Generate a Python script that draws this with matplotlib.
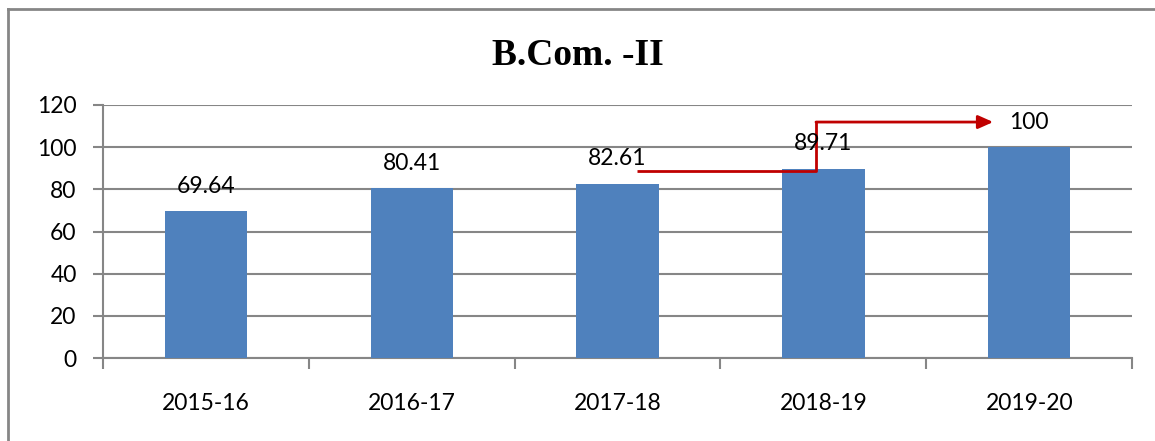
import numpy as np
import matplotlib.pyplot as plt
from matplotlib.lines import Line2D

years = ['2015-16', '2016-17', '2017-18', '2018-19', '2019-20']
results = [69.64, 80.41, 82.61, 89.71, 100]
labels = ['69.64', '80.41', '82.61', '89.71', '100']

# elbow arrow (data coords: category index, value)
arrow_x = [2.095, 2.964, 2.964, 3.825]
arrow_y = [88.7, 88.7, 111.9, 111.9]

grey = '#868686'
plt.rcParams['font.family'] = ['Lato', 'DejaVu Sans']

fig = plt.figure(figsize=(11.55, 4.41), dpi=100)
ax = fig.add_axes([0.0892, 0.188, 0.891, 0.574])

x = np.arange(len(years))
ax.bar(x, results, width=0.4, color='#4F81BD', zorder=3)

for xi, v, lab in zip(x, results, labels):
    ax.annotate(lab, (xi, v), xytext=(0, 18), textcoords='offset points',
                ha='center', va='center', fontsize=16.5, color='black', zorder=5)

ax.plot(arrow_x[:-1], arrow_y[:-1], color='#C00000', lw=2, zorder=4, solid_capstyle='butt')
ax.annotate('', xy=(arrow_x[-1], arrow_y[-1]), xytext=(arrow_x[-2], arrow_y[-2]),
            arrowprops=dict(arrowstyle='-|>,head_length=0.9,head_width=0.4',
                            color='#C00000', lw=2, shrinkA=0, shrinkB=0), zorder=4)

ax.set_xlim(-0.5, 4.5)
ax.set_ylim(0, 120)
ax.set_yticks(range(0, 121, 20))
ax.set_xticks(np.arange(-0.5, 5, 1))
ax.set_xticklabels([])
ax.set_xticks(x, minor=True)
ax.set_xticklabels(years, minor=True, fontsize=16.5)
ax.tick_params(axis='x', which='minor', length=0, pad=25)
ax.tick_params(axis='x', which='major', length=8, color=grey, width=1.5)
ax.tick_params(axis='y', length=7, color=grey, width=1.5, labelsize=16.5, pad=12)

ax.grid(True, axis='y', color=grey, lw=1.5, zorder=0)
for s in ['top', 'right']:
    ax.spines[s].set_visible(False)
for s in ['left', 'bottom']:
    ax.spines[s].set_color(grey)
    ax.spines[s].set_linewidth(1.5)

fig.text(0.5, 0.875, 'B.Com. -II', ha='center', va='center', fontsize=27,
         fontweight='bold', family='Liberation Serif')

# outer frame (top and left only)
fig.add_artist(Line2D([8/1155, 1], [1-9/441, 1-9/441], color=grey, lw=2, transform=fig.transFigure))
fig.add_artist(Line2D([8/1155, 8/1155], [0, 1-9/441], color=grey, lw=2, transform=fig.transFigure))

fig.savefig('out.png', dpi=100)
